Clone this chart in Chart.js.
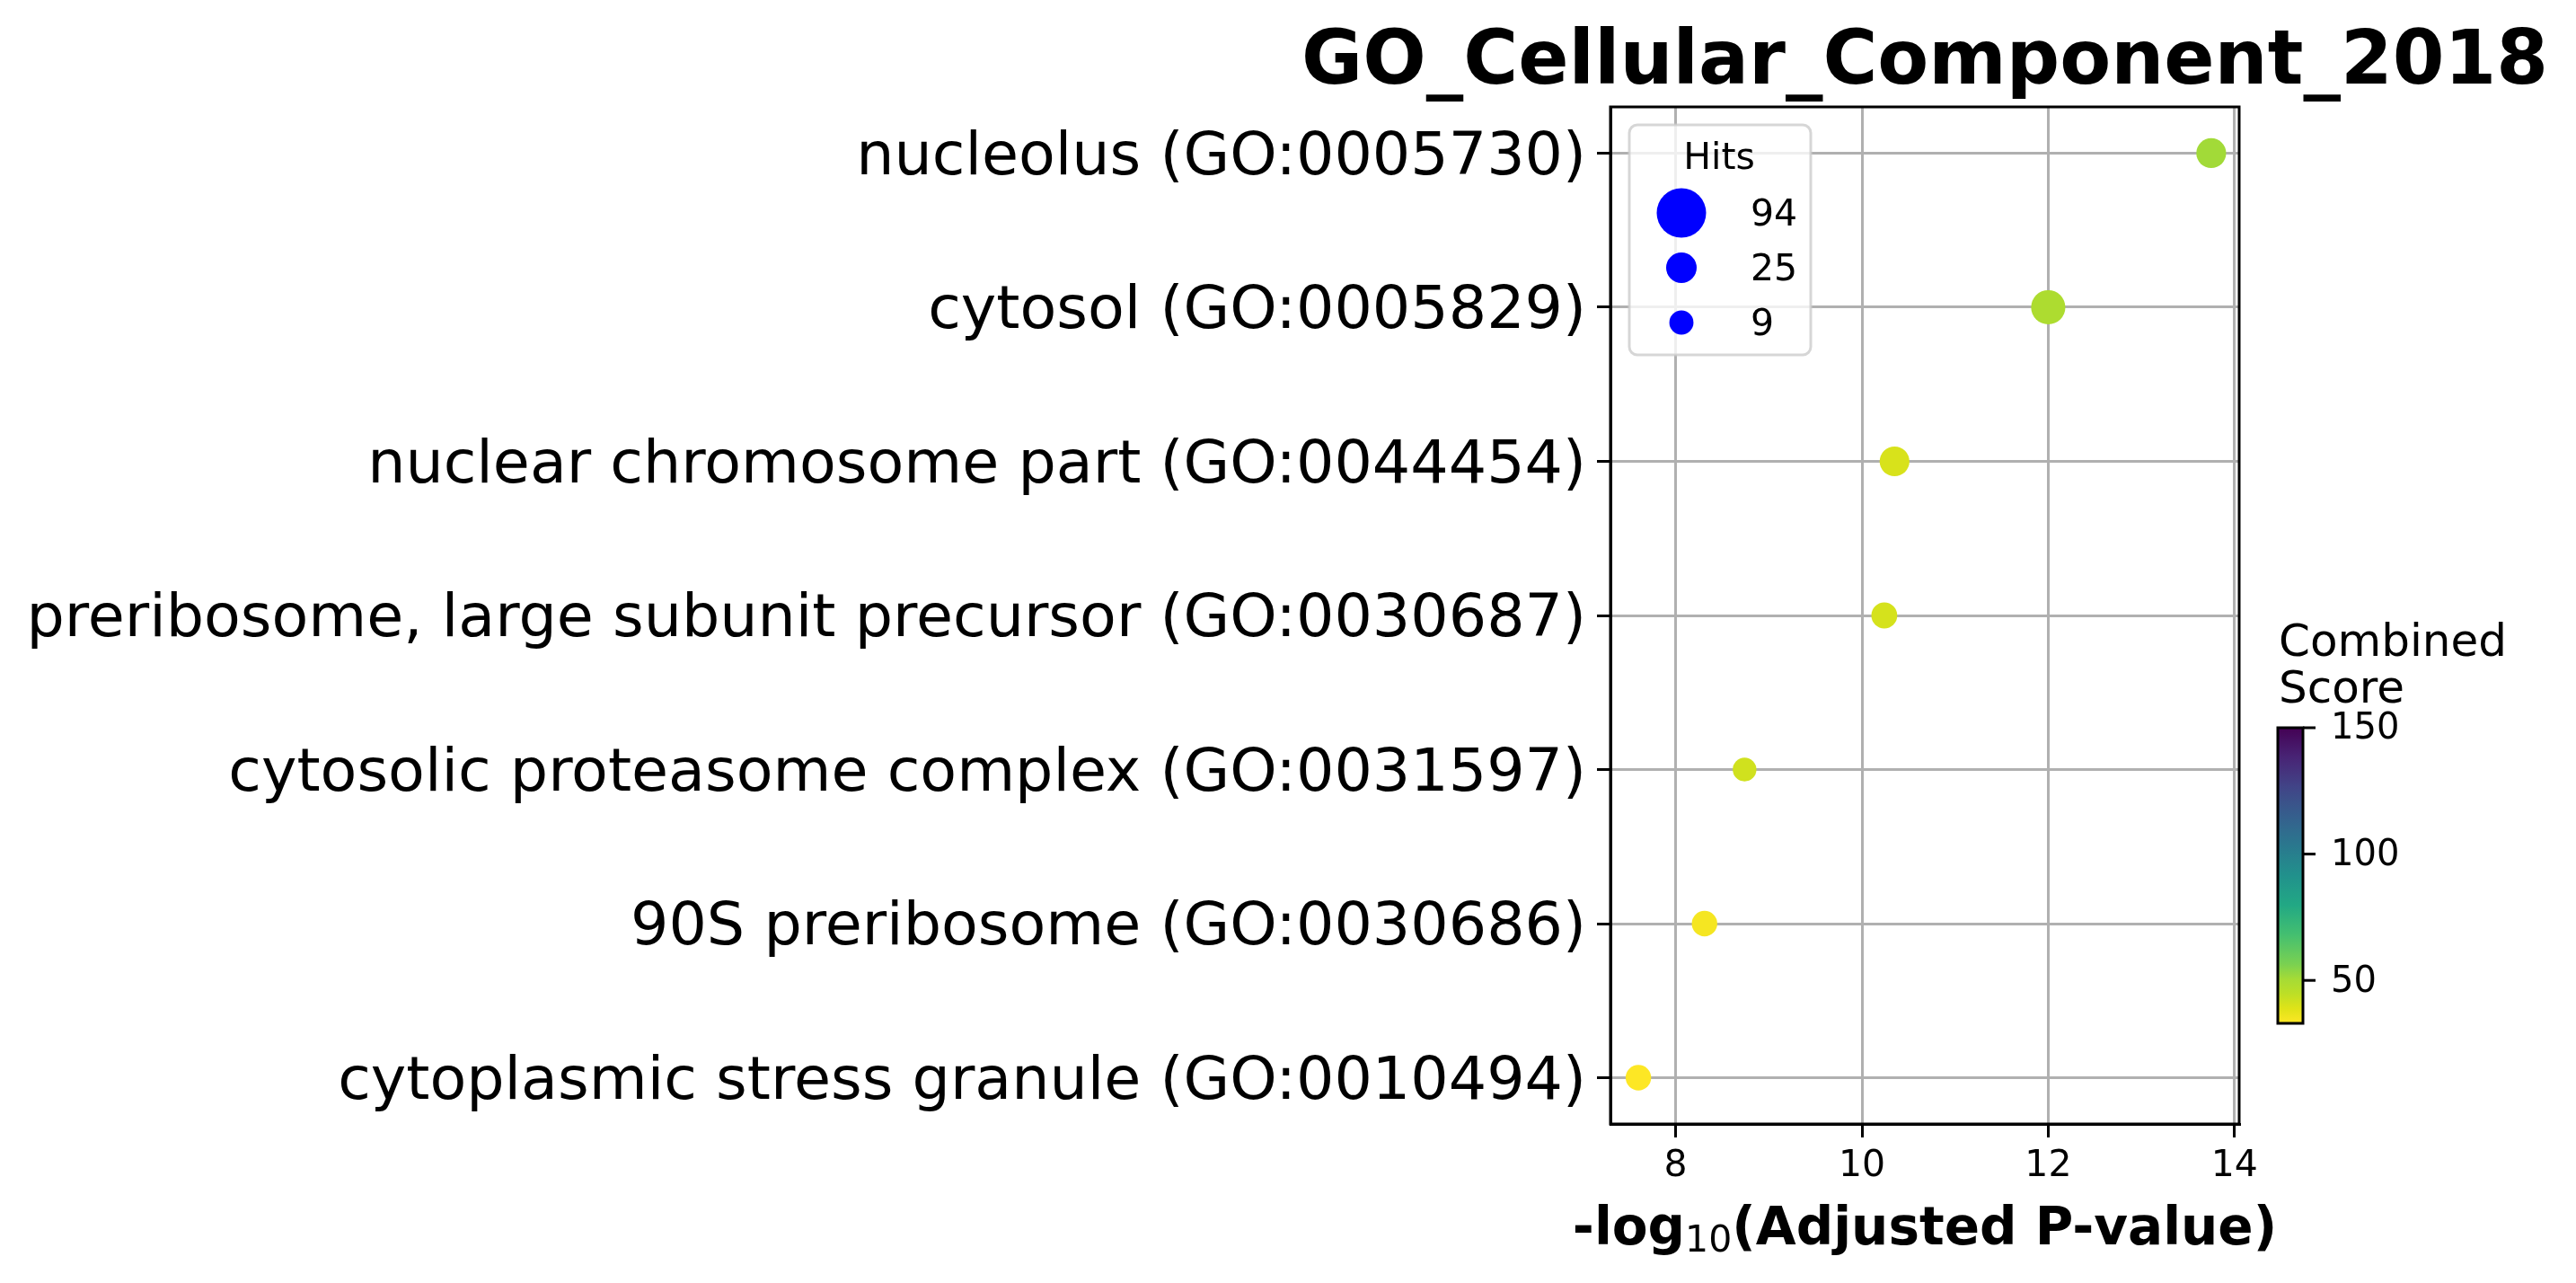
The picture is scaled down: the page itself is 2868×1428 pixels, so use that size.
<!DOCTYPE html>
<html>
<head>
<meta charset="utf-8">
<script src="https://cdn.jsdelivr.net/npm/chart.js@4.4.1/dist/chart.umd.min.js"></script>
<style>
  html, body { margin: 0; padding: 0; background: #ffffff; }
  #wrap { width: 2868px; height: 1428px; position: relative; }
</style>
</head>
<body>
<div id="wrap"><canvas id="c"></canvas></div>
<script>
// ---------------- data ----------------
const chartTitle = "GO_Cellular_Component_2018";
const categories = [
  "nucleolus (GO:0005730)",
  "cytosol (GO:0005829)",
  "nuclear chromosome part (GO:0044454)",
  "preribosome, large subunit precursor (GO:0030687)",
  "cytosolic proteasome complex (GO:0031597)",
  "90S preribosome (GO:0030686)",
  "cytoplasmic stress granule (GO:0010494)"
];
const negLog10AdjP = [13.75, 12.0, 10.35, 10.24, 8.74, 8.31, 7.60];
const hits = [23, 36, 23, 13, 8, 12, 12];
const combinedScore = [51, 48.5, 40, 40.5, 41.5, 34.5, 33];
const legendHits = [94, 25, 9];
const xTickValues = [8, 10, 12, 14];
const colorbarTicks = [50, 100, 150];
const scoreMin = 33;
const scoreMax = 150;
const xMin = 7.30, xMax = 14.05;

// ---------------- styling helpers ----------------
const FONT = "'DejaVu Sans', 'Liberation Sans', sans-serif";
const viridisStops = [
  [0.00, [0x44,0x01,0x54]], [0.10, [0x48,0x24,0x75]], [0.20, [0x41,0x44,0x87]],
  [0.30, [0x35,0x5f,0x8d]], [0.40, [0x2a,0x78,0x8e]], [0.50, [0x21,0x91,0x8c]],
  [0.60, [0x22,0xa8,0x84]], [0.70, [0x44,0xbf,0x70]], [0.80, [0x7a,0xd1,0x51]],
  [0.85, [0xa5,0xdb,0x36]], [0.90, [0xbd,0xdf,0x26]], [0.95, [0xdf,0xe3,0x18]],
  [1.00, [0xfd,0xe7,0x25]]
];
function viridis(t) {
  t = Math.max(0, Math.min(1, t));
  for (let i = 1; i < viridisStops.length; i++) {
    const [t1, c1] = viridisStops[i];
    const [t0, c0] = viridisStops[i-1];
    if (t <= t1) {
      const f = (t - t0) / (t1 - t0);
      const c = c0.map((v, k) => Math.round(v + (c1[k] - v) * f));
      return `rgb(${c[0]},${c[1]},${c[2]})`;
    }
  }
  return 'rgb(253,231,37)';
}
// reversed viridis: low score = yellow
function scoreColor(s) { return viridis(1 - (s - scoreMin) / (scoreMax - scoreMin)); }
// marker diameter (px) from hits (area grows linearly with hits)
function hitsDiameter(h) { return Math.sqrt(479 + 27.1 * h); }

const points = categories.map((c, i) => ({ x: negLog10AdjP[i], y: i }));

// ---------------- decorations plugin ----------------
const deco = {
  id: 'deco',
  afterDatasetsDraw(chart) {
    const ctx = chart.ctx;
    const a = chart.chartArea;
    ctx.save();
    // frame
    ctx.strokeStyle = '#000';
    ctx.lineWidth = 3;
    ctx.strokeRect(a.left, a.top, a.right - a.left, a.bottom - a.top);

    // title
    ctx.fillStyle = '#000';
    ctx.font = `bold 83px ${FONT}`;
    ctx.textAlign = 'center';
    ctx.textBaseline = 'alphabetic';
    const cx = (a.left + a.right) / 2;
    ctx.fillText(chartTitle, cx, 93);

    // x axis title with subscript
    const p1 = '-log', p2 = '10', p3 = '(Adjusted P-value)';
    const fb = `bold 58px ${FONT}`, fs = `41px ${FONT}`;
    ctx.font = fb; const w1 = ctx.measureText(p1).width; const w3 = ctx.measureText(p3).width;
    ctx.font = fs; const w2 = ctx.measureText(p2).width;
    let x0 = cx - (w1 + w2 + w3) / 2;
    const base = 1385;
    ctx.textAlign = 'left';
    ctx.font = fb; ctx.fillText(p1, x0, base); x0 += w1;
    ctx.font = fs; ctx.fillText(p2, x0, base + 8); x0 += w2;
    ctx.font = fb; ctx.fillText(p3, x0, base);

    // legend (Hits)
    const lx = a.left + 21, ly = 139, lw = 202, lh = 256, r = 9;
    ctx.beginPath();
    ctx.moveTo(lx + r, ly);
    ctx.arcTo(lx + lw, ly, lx + lw, ly + lh, r);
    ctx.arcTo(lx + lw, ly + lh, lx, ly + lh, r);
    ctx.arcTo(lx, ly + lh, lx, ly, r);
    ctx.arcTo(lx, ly, lx + lw, ly, r);
    ctx.closePath();
    ctx.fillStyle = 'rgba(255,255,255,0.8)';
    ctx.fill();
    ctx.strokeStyle = 'rgba(204,204,204,0.8)';
    ctx.lineWidth = 3;
    ctx.stroke();
    ctx.fillStyle = '#000';
    ctx.font = `41px ${FONT}`;
    ctx.textAlign = 'center';
    ctx.fillText('Hits', lx + 100, 188);
    const rowsY = [237, 298, 359];
    legendHits.forEach((h, i) => {
      ctx.beginPath();
      ctx.fillStyle = '#0000ff';
      ctx.arc(lx + 58, rowsY[i], hitsDiameter(h) / 2, 0, Math.PI * 2);
      ctx.fill();
      ctx.fillStyle = '#000';
      ctx.textAlign = 'left';
      ctx.fillText(String(h), lx + 135, rowsY[i] + 14);
    });

    // colorbar
    const bx = 2536, bw = 28, bTop = 810, bBot = 1139;
    const g = ctx.createLinearGradient(0, bBot, 0, bTop);
    for (let k = 0; k <= 20; k++) g.addColorStop(k / 20, viridis(1 - k / 20));
    ctx.fillStyle = g;
    ctx.fillRect(bx, bTop, bw, bBot - bTop);
    ctx.strokeStyle = '#000';
    ctx.lineWidth = 3;
    ctx.strokeRect(bx, bTop, bw, bBot - bTop);
    ctx.fillStyle = '#000';
    ctx.font = `40px ${FONT}`;
    ctx.textAlign = 'left';
    ctx.textBaseline = 'middle';
    colorbarTicks.forEach(v => {
      const y = bBot - (v - scoreMin) / (scoreMax - scoreMin) * (bBot - bTop);
      ctx.beginPath();
      ctx.moveTo(bx + bw, y); ctx.lineTo(bx + bw + 14, y);
      ctx.stroke();
      ctx.fillText(String(v), bx + bw + 31, y + 2);
    });
    ctx.textBaseline = 'alphabetic';
    ctx.font = `50px ${FONT}`;
    ctx.fillText('Combined', bx + 1, 730);
    ctx.fillText('Score', bx + 1, 782);
    ctx.restore();
  }
};

new Chart(document.getElementById('c'), {
  type: 'scatter',
  data: {
    datasets: [{
      data: points,
      pointRadius: hits.map(h => hitsDiameter(h) / 2),
      pointHoverRadius: hits.map(h => hitsDiameter(h) / 2),
      pointBackgroundColor: combinedScore.map(scoreColor),
      pointBorderWidth: 0,
      borderWidth: 0,
      showLine: false
    }]
  },
  options: {
    responsive: true,
    maintainAspectRatio: false,
    devicePixelRatio: 1,
    animation: false,
    events: [],
    layout: { padding: { left: 0, right: 375, top: 119, bottom: 0 } },
    plugins: { legend: { display: false }, tooltip: { enabled: false }, title: { display: false } },
    scales: {
      x: {
        type: 'linear',
        min: xMin, max: xMax,
        afterBuildTicks: s => { s.ticks = xTickValues.map(v => ({ value: v })); },
        afterFit: s => { s.height = 177; },
        grid: { color: '#b0b0b0', lineWidth: 3, tickColor: '#000', tickWidth: 3, tickLength: 15, drawTicks: true },
        border: { color: '#000', width: 3 },
        ticks: { color: '#000', font: { family: FONT, size: 41 }, padding: 8, maxRotation: 0, autoSkip: false,
                 callback: v => String(v) }
      },
      y: {
        type: 'linear',
        reverse: true,
        min: -0.3, max: categories.length - 0.7,
        afterBuildTicks: s => { s.ticks = categories.map((c, i) => ({ value: i })); },
        afterFit: s => { s.width = 1793; },
        grid: { color: '#b0b0b0', lineWidth: 3, tickColor: '#000', tickWidth: 3, tickLength: 15, drawTicks: true },
        border: { color: '#000', width: 3 },
        ticks: { color: '#000', font: { family: FONT, size: 66.7 }, padding: 12, labelOffset: 6, autoSkip: false,
                 callback: v => categories[Math.round(v)] }
      }
    }
  },
  plugins: [deco]
});
</script>
</body>
</html>
